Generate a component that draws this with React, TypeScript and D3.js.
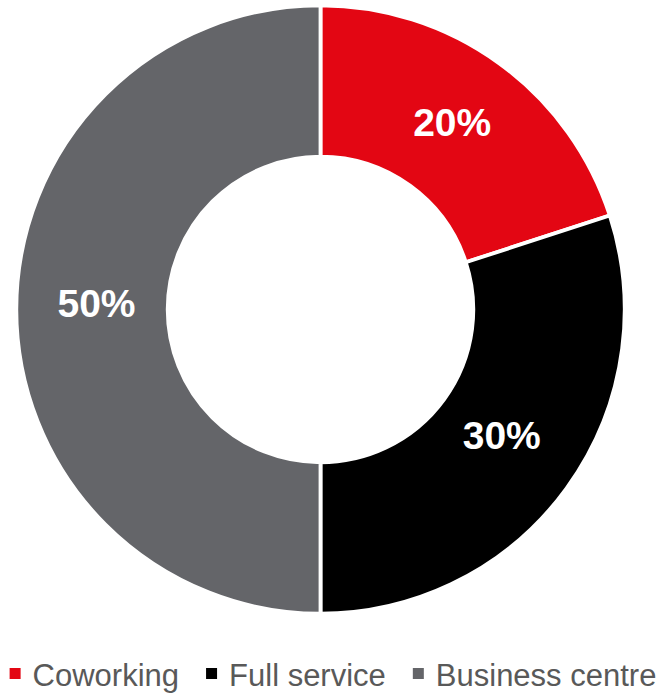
import React, { useEffect, useRef } from "react";
import * as d3 from "d3";

const categories = ["Coworking", "Full service", "Business centre"];
const values = [20, 30, 50];
const labels = ["20%", "30%", "50%"];
const colors = ["#E30613", "#000000", "#646569"];

const W = 666;
const H = 693;

export default function App() {
  const ref = useRef<SVGSVGElement>(null);

  useEffect(() => {
    const svg = d3.select(ref.current);
    svg.selectAll("*").remove();

    const cx = 320.5;
    const cy = 309.5;
    const outer = 304.2;
    const inner = 152.8;

    const pie = d3.pie<number>().sort(null).value((d) => d);
    const arcs = pie(values);
    const arc = d3.arc<d3.PieArcDatum<number>>().innerRadius(inner).outerRadius(outer);
    const labelArc = d3.arc<d3.PieArcDatum<number>>().innerRadius(224).outerRadius(224);

    const g = svg.append("g").attr("transform", `translate(${cx},${cy})`);
    g.selectAll("path.slice")
      .data(arcs)
      .join("path")
      .attr("class", "slice")
      .attr("d", arc)
      .attr("fill", (_, i) => colors[i])
      .attr("stroke", "#ffffff")
      .attr("stroke-width", 3.8);

    g.selectAll("text.lbl")
      .data(arcs)
      .join("text")
      .attr("class", "lbl")
      .attr("transform", (d) => {
        const [x, y] = labelArc.centroid(d);
        return `translate(${x},${y})`;
      })
      .attr("text-anchor", "middle")
      .attr("dy", "0.2em")
      .attr("font-family", "'Liberation Sans', Arial, sans-serif")
      .attr("font-weight", "bold")
      .attr("font-size", 39)
      .attr("fill", "#ffffff")
      .text((_, i) => labels[i]);

    // legend
    const legend = svg.append("g");
    const sq = 11;
    const gapSqText = 12;
    const gapItems = 27;
    const baseline = 686;
    const items = legend
      .selectAll("g.item")
      .data(categories)
      .join("g")
      .attr("class", "item");
    items
      .append("rect")
      .attr("width", sq)
      .attr("height", sq)
      .attr("y", baseline - 18)
      .attr("fill", (_, i) => colors[i]);
    const texts = items
      .append("text")
      .attr("x", sq + gapSqText)
      .attr("y", baseline)
      .attr("font-family", "'Liberation Sans', Arial, sans-serif")
      .attr("font-size", 31)
      .attr("fill", "#595959")
      .text((d) => d);
    const widths: number[] = [];
    texts.each(function () {
      widths.push((this as SVGTextElement).getComputedTextLength());
    });
    const total =
      widths.reduce((a, b) => a + b, 0) +
      categories.length * (sq + gapSqText) +
      (categories.length - 1) * gapItems;
    let x = W / 2 - total / 2;
    const xs: number[] = [];
    widths.forEach((w) => {
      xs.push(x);
      x += sq + gapSqText + w + gapItems;
    });
    items.attr("transform", (_, i) => `translate(${xs[i]},0)`);
  }, []);

  return (
    <svg
      ref={ref}
      width={W}
      height={H}
      style={{ position: "absolute", left: 0, top: 0, display: "block", background: "#ffffff" }}
    />
  );
}
